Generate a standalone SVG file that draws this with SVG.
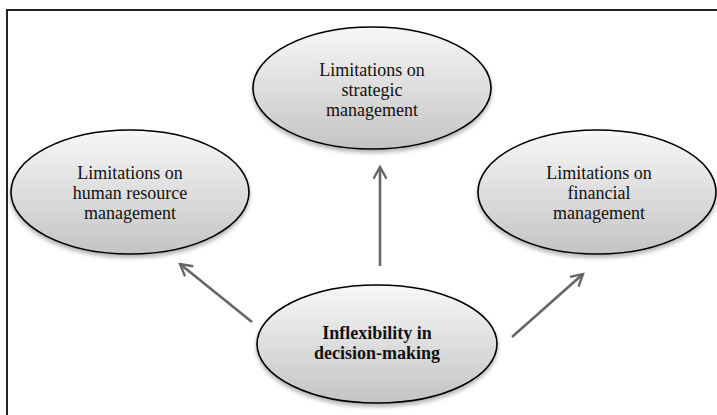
<svg xmlns="http://www.w3.org/2000/svg" width="717" height="415" viewBox="0 0 717 415">
<style>
.node ellipse{fill:url(#g);stroke:#000;stroke-width:1.6;filter:url(#sh)}
.t{font-family:"Liberation Serif","Times New Roman",serif;font-size:18px;fill:#111;text-anchor:middle}
.b{font-weight:bold}
.c line{stroke:#666;stroke-width:2.6;marker-end:url(#ah)}
</style>
<defs>
<linearGradient id="g" x1="0" y1="0" x2="0" y2="1">
<stop offset="0" stop-color="#f7f7f7"/>
<stop offset="1" stop-color="#c4c4c4"/>
</linearGradient>
<filter id="sh" x="-10%" y="-10%" width="120%" height="130%">
<feDropShadow dx="0" dy="3" stdDeviation="2" flood-color="#000" flood-opacity="0.3"/>
</filter>
<marker id="ah" viewBox="0 0 12 12" refX="10" refY="6" markerWidth="6" markerHeight="6" orient="auto" markerUnits="strokeWidth">
<path d="M1,1 L10,6 L1,11" fill="none" stroke="#666" stroke-width="1.8"/>
</marker>
</defs>
<rect width="717" height="415" fill="#fff"/>
<g id="frame"><path d="M7,415 L7,10 L717,10" fill="none" stroke="#222" stroke-width="2"/></g>
<g class="c" id="connectors">
<line x1="380" y1="266" x2="380" y2="167"/>
<line x1="252" y1="322" x2="180" y2="264"/>
<line x1="512" y1="337" x2="583" y2="274"/>
</g>
<g class="node" id="strategic">
<ellipse cx="372" cy="88" rx="119" ry="61"/>
<text class="t" x="372" y="76">Limitations on</text>
<text class="t" x="372" y="96">strategic</text>
<text class="t" x="372" y="116">management</text>
</g>
<g class="node" id="hr">
<ellipse cx="130" cy="192" rx="119" ry="62"/>
<text class="t" x="130" y="179">Limitations on</text>
<text class="t" x="130" y="199">human resource</text>
<text class="t" x="130" y="219">management</text>
</g>
<g class="node" id="financial">
<ellipse cx="597" cy="192" rx="119" ry="62"/>
<text class="t" x="599" y="179">Limitations on</text>
<text class="t" x="599" y="199">financial</text>
<text class="t" x="599" y="219">management</text>
</g>
<g class="node" id="inflexibility">
<ellipse cx="377" cy="344" rx="120" ry="59"/>
<text class="t b" x="377" y="339">Inflexibility in</text>
<text class="t b" x="377" y="359">decision-making</text>
</g>
</svg>
